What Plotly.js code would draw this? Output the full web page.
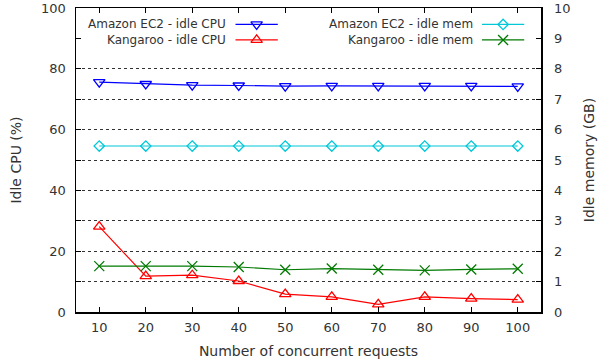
<!DOCTYPE html>
<html><head><meta charset="utf-8">
<script src="https://cdn.plot.ly/plotly-3.0.1.min.js"></script>
<style>body{margin:0;background:#fff}#c{width:613px;height:363px}</style>
</head><body><div id="c"></div>
<script>
const requests = [10,20,30,40,50,60,70,80,90,100];
const ec2Cpu = [75.6,75.0,74.6,74.5,74.3,74.4,74.4,74.4,74.4,74.2];
const kangCpu = [28.1,11.8,12.1,10.2,5.9,5.0,2.5,5.0,4.4,4.1];
const ec2Mem = [5.46,5.46,5.46,5.46,5.46,5.46,5.46,5.46,5.46,5.46];
const kangMem = [1.51,1.51,1.51,1.48,1.39,1.43,1.39,1.37,1.40,1.42];
// left axis ticks; the 90 line sits under the opaque key box, so it is a tick without a grid line
const cpuTickVals = [0,10,20,30,40,50,60,70,80,100];
const cpuTickText = ["0","","20","","40","","60","","80","100"];
const cpuKeyTick = [90];
const memTickVals = [0,1,2,3,4,5,6,7,8,9,10];
const seriesNames = ["Amazon EC2 - idle CPU","Kangaroo - idle CPU","Amazon EC2 - idle mem","Kangaroo - idle mem"];
const colors = ["#0000ff","#ff0000","#00c8d8","#007a00"];
const symbols = ["triangle-down-open","triangle-up-open","diamond-open","x-thin-open"];
const sizes = [10,10,8,10];

const F = "DejaVu Sans, sans-serif";
const TXT = '#333';
const mk = (i) => ({color: colors[i], size: sizes[i], symbol: symbols[i], line:{color: colors[i], width: 1.3}});

const traces = [
  {x: requests, y: ec2Cpu, mode:'lines+markers', line:{color:colors[0], width:1.2}, marker: mk(0), yaxis:'y', showlegend:false},
  {x: requests, y: kangCpu, mode:'lines+markers', line:{color:colors[1], width:1.2}, marker: mk(1), yaxis:'y', showlegend:false},
  {x: requests, y: ec2Mem, mode:'lines+markers', line:{color:colors[2], width:1.2}, marker: mk(2), yaxis:'y2', showlegend:false},
  {x: requests, y: kangMem, mode:'lines+markers', line:{color:colors[3], width:1.2}, marker: mk(3), yaxis:'y2', showlegend:false}
];

// legend samples on an invisible overlay axis pair (layout positions, not data)
const legPos = [
  {x0:0.343, x1:0.434, y:0.946},
  {x0:0.343, x1:0.434, y:0.895},
  {x0:0.873, x1:0.964, y:0.946},
  {x0:0.873, x1:0.964, y:0.895}
];
const annotations = [];
legPos.forEach((p,i)=>{
  traces.push({x:[p.x0,p.x1], y:[p.y,p.y], mode:'lines', line:{color:colors[i], width:1.2}, xaxis:'x3', yaxis:'y3', showlegend:false, hoverinfo:'skip'});
  traces.push({x:[(p.x0+p.x1)/2], y:[p.y], mode:'markers', marker: mk(i), xaxis:'x3', yaxis:'y3', showlegend:false, hoverinfo:'skip'});
  annotations.push({xref:'x3', yref:'y3', x:p.x0-0.016, y:p.y, text:seriesNames[i], showarrow:false, xanchor:'right', yanchor:'middle', font:{family:F, size:12, color:TXT}});
});

const layout = {
  width:613, height:363,
  margin:{l:76, r:72, t:8, b:51},
  paper_bgcolor:'#fff', plot_bgcolor:'#fff',
  font:{family:F, size:13, color:TXT},
  showlegend:false,
  xaxis:{range:[5,105], tickvals:requests, ticks:'inside', ticklen:5, tickcolor:'#000', showline:true, linecolor:'#000', linewidth:1.5, mirror:'ticks', showgrid:false, zeroline:false,
    ticklabelstandoff:3,
    title:{text:'Number of concurrent requests', font:{family:F, size:14, color:TXT}, standoff:12}},
  yaxis:{range:[0,100], tickvals:cpuTickVals, ticktext:cpuTickText, ticks:'inside', ticklen:5, tickcolor:'#000', showline:true, linecolor:'#000', linewidth:1.5, mirror:true, zeroline:false,
    showgrid:true, gridcolor:'#333', griddash:'dot', gridwidth:1,
    minor:{tickvals:cpuKeyTick, ticks:'inside', ticklen:5, tickcolor:'#000', showgrid:false},
    ticklabeloverflow:'allow', ticklabelstandoff:6,
    title:{text:'Idle CPU (%)', font:{family:F, size:14, color:TXT}, standoff:16}},
  yaxis2:{range:[0,10], tickvals:memTickVals, overlaying:'y', side:'right', ticks:'inside', ticklen:5, tickcolor:'#000', showline:false, zeroline:false, showgrid:false,
    ticklabeloverflow:'allow', ticklabelstandoff:12,
    title:{text:'Idle memory (GB)', font:{family:F, size:14, color:TXT}, standoff:14}},
  xaxis3:{range:[0,1], overlaying:'x', visible:false, fixedrange:true},
  yaxis3:{range:[0,1], overlaying:'y', visible:false, fixedrange:true},
  annotations: annotations
};
Plotly.newPlot('c', traces, layout, {displayModeBar:false, staticPlot:true});
</script></body></html>
